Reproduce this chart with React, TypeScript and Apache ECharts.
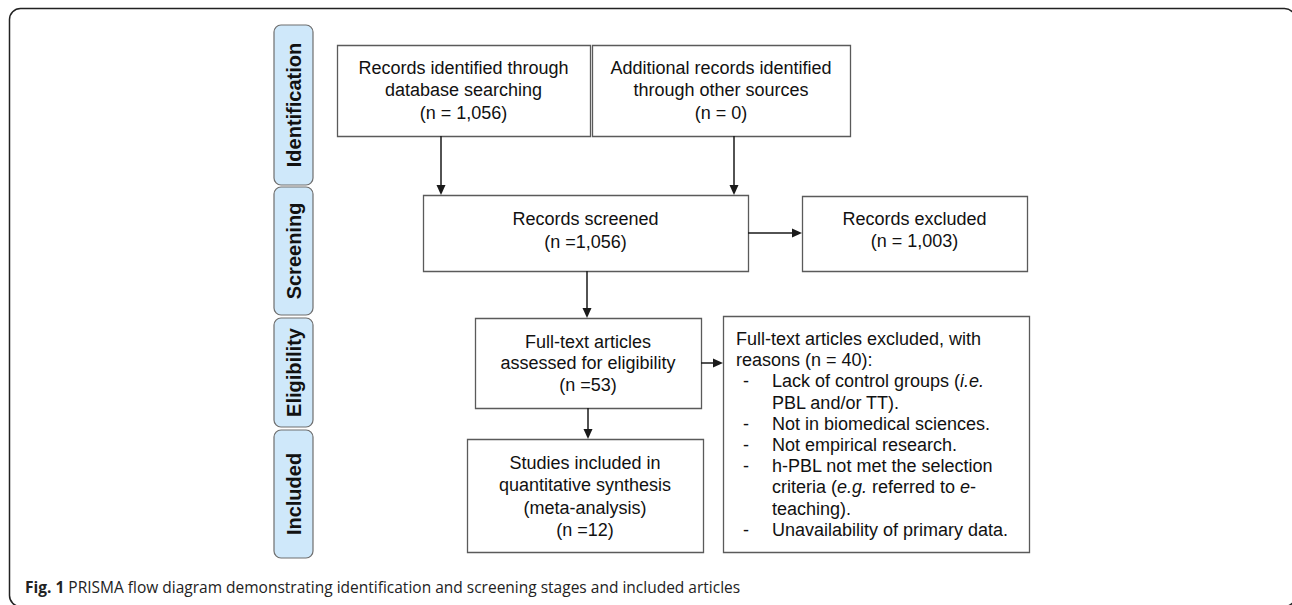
import React, { useEffect, useRef } from 'react';
import * as echarts from 'echarts';

// ---- content ----
const stageLabels = ['Identification', 'Screening', 'Eligibility', 'Included'];
const countDatabase = '1,056';
const countOther = '0';
const countScreened = '1,056';
const countExcluded = '1,003';
const countFullText = '53';
const countFullTextExcluded = '40';
const countIncluded = '12';
const captionBold = 'Fig. 1';
const captionText = ' PRISMA flow diagram demonstrating identification and screening stages and included articles';

const boxTexts: string[][] = [
  ['Records identified through', 'database searching', `(n = ${countDatabase})`],
  ['Additional records identified', 'through other sources', `(n = ${countOther})`],
  ['Records screened', `(n =${countScreened})`],
  ['Records excluded', `(n = ${countExcluded})`],
  ['Full-text articles', 'assessed for eligibility', `(n =${countFullText})`],
  ['Studies included in', 'quantitative synthesis', '(meta-analysis)', `(n =${countIncluded})`],
];

// excluded reasons: [isBullet, rich-text]
const reasonLines: [boolean, string][] = [
  [false, 'Full-text articles excluded, with'],
  [false, `reasons (n = ${countFullTextExcluded}):`],
  [true, 'Lack of control groups ({i|i.e.}'],
  [false, 'PBL and/or TT).'],
  [true, 'Not in biomedical sciences.'],
  [true, 'Not empirical research.'],
  [true, 'h-PBL not met the selection'],
  [false, 'criteria ({i|e.g.} referred to {i|e}-'],
  [false, 'teaching).'],
  [true, 'Unavailability of primary data.'],
];

// ---- layout ----
const stageBoxes = [
  { y: 25, h: 160 },
  { y: 187, h: 128 },
  { y: 318, h: 109 },
  { y: 430, h: 128 },
];
const boxLayout = [
  { x: 337, y: 45, w: 253, h: 91, lineY: [68, 90, 113] },
  { x: 592, y: 45, w: 258, h: 91, lineY: [68, 90, 113] },
  { x: 423, y: 195, w: 325, h: 76, lineY: [219, 242] },
  { x: 802, y: 196, w: 225, h: 75, lineY: [219, 241] },
  { x: 475, y: 318, w: 226, h: 90, lineY: [342, 363, 385] },
  { x: 467, y: 439, w: 236, h: 113, lineY: [463, 485, 508, 530] },
];
const reasonBox = { x: 723, y: 316, w: 306, h: 236, textX: 736, bulletX: 743, indentX: 772, firstY: 339, step: 21.2 };
const arrows = [
  [441, 136, 441, 195],
  [734, 136, 734, 195],
  [748, 233, 802, 233],
  [587, 271, 587, 318],
  [701, 363, 723, 363],
  [588, 408, 588, 439],
];

const FONT = '"Liberation Sans", Arial, Helvetica, sans-serif';
const BOX_STROKE = '#5a5a5a';
const TEXT_COLOR = '#111';

function buildGraphics() {
  const els: any[] = [];
  // outer frame
  els.push({
    type: 'rect',
    shape: { x: 9.5, y: 8.5, width: 1286, height: 598, r: 11 },
    style: { fill: '#fff', stroke: '#222', lineWidth: 1.5 },
  });
  // stage labels
  stageLabels.forEach((label, i) => {
    const b = stageBoxes[i];
    els.push({
      type: 'rect',
      shape: { x: 274, y: b.y, width: 39, height: b.h, r: 7 },
      style: { fill: '#cfe8fa', stroke: '#6e6e6e', lineWidth: 1.2 },
    });
    els.push({
      type: 'text',
      x: 293.5,
      y: b.y + b.h / 2,
      rotation: Math.PI / 2,
      style: {
        text: label,
        fontFamily: FONT,
        fontWeight: 'bold',
        fontSize: 20,
        fill: '#111',
        align: 'center',
        verticalAlign: 'middle',
      },
    });
  });
  // boxes
  boxLayout.forEach((b, i) => {
    els.push({
      type: 'rect',
      shape: { x: b.x + 0.5, y: b.y + 0.5, width: b.w, height: b.h },
      style: { fill: '#fff', stroke: BOX_STROKE, lineWidth: 1.3 },
    });
    boxTexts[i].forEach((line, j) => {
      els.push({
        type: 'text',
        x: b.x + b.w / 2,
        y: b.lineY[j],
        style: {
          text: line,
          fontFamily: FONT,
          fontSize: 18,
          fill: TEXT_COLOR,
          align: 'center',
          verticalAlign: 'middle',
        },
      });
    });
  });
  // reasons box
  const r = reasonBox;
  els.push({
    type: 'rect',
    shape: { x: r.x + 0.5, y: r.y + 0.5, width: r.w, height: r.h },
    style: { fill: '#fff', stroke: BOX_STROKE, lineWidth: 1.3 },
  });
  let indent = false;
  reasonLines.forEach(([bullet, txt], k) => {
    const y = r.firstY + k * r.step;
    if (bullet) {
      indent = true;
      els.push({
        type: 'text',
        x: r.bulletX,
        y,
        style: { text: '-', fontFamily: FONT, fontSize: 18, fill: TEXT_COLOR, align: 'left', verticalAlign: 'middle' },
      });
    }
    els.push({
      type: 'text',
      x: indent ? r.indentX : r.textX,
      y,
      style: {
        text: txt,
        fontFamily: FONT,
        fontSize: 18,
        fill: TEXT_COLOR,
        align: 'left',
        verticalAlign: 'middle',
        rich: {
          i: { fontFamily: FONT, fontSize: 18, fontStyle: 'italic', fill: TEXT_COLOR },
        },
      },
    });
  });
  // arrows
  arrows.forEach(([x1, y1, x2, y2]) => {
    const dx = x2 - x1;
    const dy = y2 - y1;
    const len = Math.sqrt(dx * dx + dy * dy);
    const ux = dx / len;
    const uy = dy / len;
    const hl = 10;
    const hw = 4.5;
    const bx = x2 - ux * hl;
    const by = y2 - uy * hl;
    els.push({
      type: 'line',
      shape: { x1, y1, x2: bx, y2: by },
      style: { stroke: '#1a1a1a', lineWidth: 1.5 },
    });
    els.push({
      type: 'polygon',
      shape: {
        points: [
          [x2, y2],
          [bx - uy * hw, by + ux * hw],
          [bx + uy * hw, by - ux * hw],
        ],
      },
      style: { fill: '#1a1a1a' },
    });
  });
  // caption
  els.push({
    type: 'text',
    x: 25,
    y: 587,
    style: {
      text: `{b|${captionBold}}${captionText}`,
      fontFamily: '"Open Sans", "Noto Sans", sans-serif',
      fontSize: 15.5,
      fill: '#222',
      align: 'left',
      verticalAlign: 'middle',
      rich: {
        b: { fontFamily: '"Open Sans", "Noto Sans", sans-serif', fontSize: 15.5, fontWeight: 'bold', fill: '#222' },
      },
    },
  });
  return els;
}

export default function App() {
  const ref = useRef<HTMLDivElement>(null);
  useEffect(() => {
    document.body.style.margin = '0';
    if (!ref.current) return;
    const chart = echarts.init(ref.current, undefined, { renderer: 'svg' });
    chart.setOption({
      animation: false,
      backgroundColor: '#fff',
      graphic: { elements: buildGraphics() },
    });
    return () => chart.dispose();
  }, []);
  return <div ref={ref} style={{ width: 1292, height: 605 }} />;
}
